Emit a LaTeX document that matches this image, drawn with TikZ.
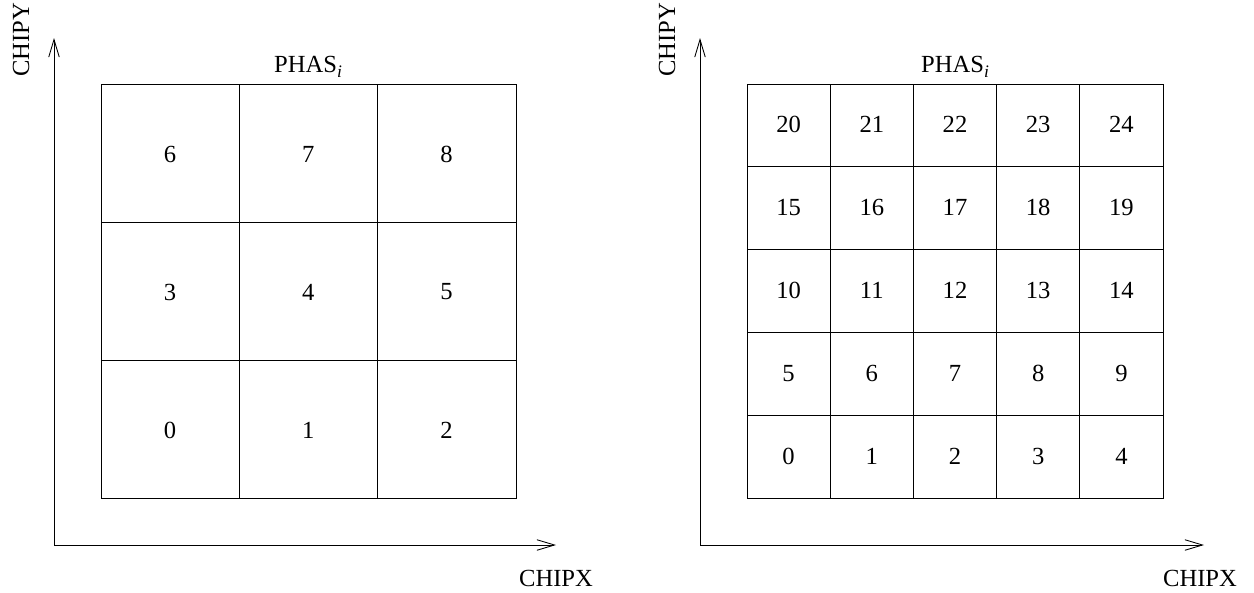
\documentclass[tikz,border=0pt]{standalone}
\usepackage{fontspec}
\setmainfont{Liberation Serif}
\usetikzlibrary{arrows.meta}

\newcommand{\phaslabel}{PHAS\raisebox{-0.45ex}{\fontsize{10}{12}\selectfont\textit{i}}}

\begin{document}
\begin{tikzpicture}[x=0.02cm, y=-0.02cm, line width=0.5pt,
  font=\fontsize{14}{16}\selectfont,
  axis/.style={-{Straight Barb[length=10pt, width=6pt]}},
  cell/.style={inner sep=0pt, anchor=center}]
  \useasboundingbox (0,0) rectangle (1254,592);

  % Left: 3 x 3 chip grid
  \coordinate (origL) at (54,545);
  \coordinate (tipYL) at (54,38);
  \coordinate (tipXL) at (556,545);
  \draw[axis] (origL) -- (tipYL);
  \draw[axis] (origL) -- (tipXL);
  \draw (101,84) rectangle (516,498);
  \foreach \k in {1,2} {
    \draw (101+138.3*\k,84) -- (101+138.3*\k,498);
    \draw (101,84+138*\k) -- (516,84+138*\k);
  }
  \foreach \i in {0,1,2} {
    \foreach \j in {0,1,2} {
      \pgfmathtruncatemacro{\n}{3*\j+\i}
      \node[cell] (cL\n) at (170+138.3*\i, 430-138*\j) {\n};
    }
  }
  \node (phasL) at (308,67) {\phaslabel};
  \node[rotate=90] (chipyL) at (21,40) {CHIPY};
  \node (chipxL) at (556,578) {CHIPX};

  % Right: 5 x 5 chip grid
  \coordinate (origR) at (700,545);
  \coordinate (tipYR) at (700,38);
  \coordinate (tipXR) at (1204,545);
  \draw[axis] (origR) -- (tipYR);
  \draw[axis] (origR) -- (tipXR);
  \draw (747,84) rectangle (1163,498);
  \foreach \k in {1,...,4} {
    \draw (747+83.2*\k,84) -- (747+83.2*\k,498);
    \draw (747,84+82.8*\k) -- (1163,84+82.8*\k);
  }
  \foreach \i in {0,...,4} {
    \foreach \j in {0,...,4} {
      \pgfmathtruncatemacro{\n}{5*\j+\i}
      \node[cell] (cR\n) at (788.6+83.2*\i, 456-82.8*\j) {\n};
    }
  }
  \node (phasR) at (955,67) {\phaslabel};
  \node[rotate=90] (chipyR) at (667,40) {CHIPY};
  \node (chipxR) at (1200,578) {CHIPX};
\end{tikzpicture}
\end{document}
